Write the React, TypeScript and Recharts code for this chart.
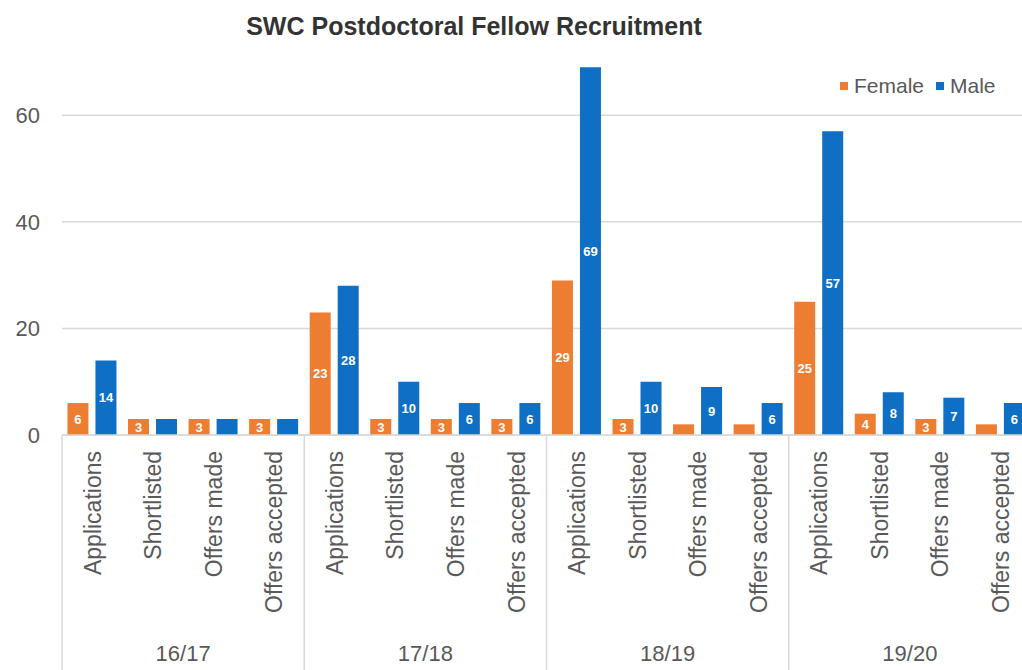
import React from 'react';
import { BarChart, Bar, XAxis, YAxis, CartesianGrid, LabelList } from 'recharts';

// Recruitment counts per academic year and stage
const years = ['16/17', '17/18', '18/19', '19/20'];
const stages = ['Applications', 'Shortlisted', 'Offers made', 'Offers accepted'];
const female = [6, 3, 3, 3, 23, 3, 3, 3, 29, 3, 2, 2, 25, 4, 3, 2];
const male = [14, 3, 3, 3, 28, 10, 6, 6, 69, 10, 9, 6, 57, 8, 7, 6];
// Which bars carry a value label
const femaleLabelShown = [true, true, true, true, true, true, true, true, true, true, false, false, true, true, true, false];
const maleLabelShown = [true, false, false, false, true, true, true, true, true, true, true, true, true, true, true, true];
const yTicks = [0, 20, 40, 60];

const FONT = "'Liberation Sans', Arial, sans-serif";
const TEXT = '#595959';
const GRID = '#d9d9d9';
const ORANGE = '#ED7D31';
const BLUE = '#0E6FC4';

const CHART_W = 1040;
const CHART_H = 670;
const MARGIN = { top: 62, right: 9, left: 0, bottom: 0 };
const Y_W = 62;
const X_H = 235;

const data = years.flatMap((year, g) =>
  stages.map((stage, s) => {
    const i = g * stages.length + s;
    return { key: `${year} ${stage}`, year, stage, female: female[i], male: male[i] };
  })
);

const fallbackHalf = (CHART_W - MARGIN.left - MARGIN.right - Y_W) / data.length / 2;

const CategoryTick = (props: any) => {
  const { x, y, index, payload } = props;
  const row = data[index];
  if (!row) return null;
  const half = payload && typeof payload.offset === 'number' && payload.offset > 0 ? payload.offset : fallbackHalf;
  const s = index % stages.length;
  const groupCenter = x - half + half * 2 * (stages.length / 2);
  return (
    <g>
      <text
        transform={`translate(${x},${y + 16}) rotate(-90)`}
        textAnchor="end"
        dy="0.36em"
        fontSize={23}
        fill={TEXT}
        fontFamily={FONT}
      >
        {row.stage}
      </text>
      {s === 0 && <line x1={x - half} x2={x - half} y1={y} y2={y + X_H} stroke={GRID} strokeWidth={1.5} />}
      {s === 0 && (
        <text x={groupCenter} y={y + 226} textAnchor="middle" fontSize={22} fill={TEXT} fontFamily={FONT}>
          {row.year}
        </text>
      )}
      {index === data.length - 1 && (
        <line x1={x + half} x2={x + half} y1={y} y2={y + X_H} stroke={GRID} strokeWidth={1.5} />
      )}
    </g>
  );
};

const makeLabel = (shown: boolean[]) => (props: any) => {
  const { x, y, width, height, value, index } = props;
  if (!shown[index]) return null;
  return (
    <text
      x={Number(x) + Number(width) / 2}
      y={Number(y) + Number(height) / 2}
      textAnchor="middle"
      dominantBaseline="central"
      fill="#ffffff"
      fontSize={13}
      fontWeight="bold"
      fontFamily={FONT}
    >
      {value}
    </text>
  );
};

const LegendItem = ({ color, label }: { color: string; label: string }) => (
  <span style={{ display: 'flex', alignItems: 'center', marginRight: 12 }}>
    <span style={{ width: 8, height: 8, background: color, display: 'inline-block', marginRight: 6 }} />
    <span>{label}</span>
  </span>
);

export default function App() {
  return (
    <div
      style={{
        position: 'absolute',
        left: 0,
        top: 0,
        width: 1022,
        height: 670,
        overflow: 'hidden',
        background: '#ffffff',
        fontFamily: FONT,
      }}
    >
      <div
        style={{
          position: 'absolute',
          left: 0,
          top: 14,
          width: 948,
          textAlign: 'center',
          fontSize: 25,
          lineHeight: '25px',
          fontWeight: 'bold',
          color: '#333333',
        }}
      >
        SWC Postdoctoral Fellow Recruitment
      </div>
      <div
        style={{
          position: 'absolute',
          left: 840,
          top: 74,
          display: 'flex',
          alignItems: 'center',
          fontSize: 21,
          lineHeight: '24px',
          color: TEXT,
          zIndex: 2,
        }}
      >
        <LegendItem color={ORANGE} label="Female" />
        <LegendItem color={BLUE} label="Male" />
      </div>
      <BarChart
        width={CHART_W}
        height={CHART_H}
        data={data}
        margin={MARGIN}
        barCategoryGap="9%"
        barGap={7}
      >
        <CartesianGrid vertical={false} stroke={GRID} strokeWidth={1.5} horizontalValues={yTicks} />
        <XAxis
          dataKey="key"
          interval={0}
          height={X_H}
          tickLine={false}
          tickSize={0}
          tickMargin={0}
          axisLine={{ stroke: GRID, strokeWidth: 1.5 }}
          tick={<CategoryTick />}
        />
        <YAxis
          width={Y_W}
          domain={[0, 70]}
          ticks={yTicks}
          axisLine={false}
          tickLine={false}
          tickSize={0}
          tickMargin={22}
          tick={{ fill: TEXT, fontSize: 22, fontFamily: FONT }}
        />
        <Bar dataKey="female" name="Female" fill={ORANGE} isAnimationActive={false}>
          <LabelList dataKey="female" content={makeLabel(femaleLabelShown)} />
        </Bar>
        <Bar dataKey="male" name="Male" fill={BLUE} isAnimationActive={false}>
          <LabelList dataKey="male" content={makeLabel(maleLabelShown)} />
        </Bar>
      </BarChart>
    </div>
  );
}
